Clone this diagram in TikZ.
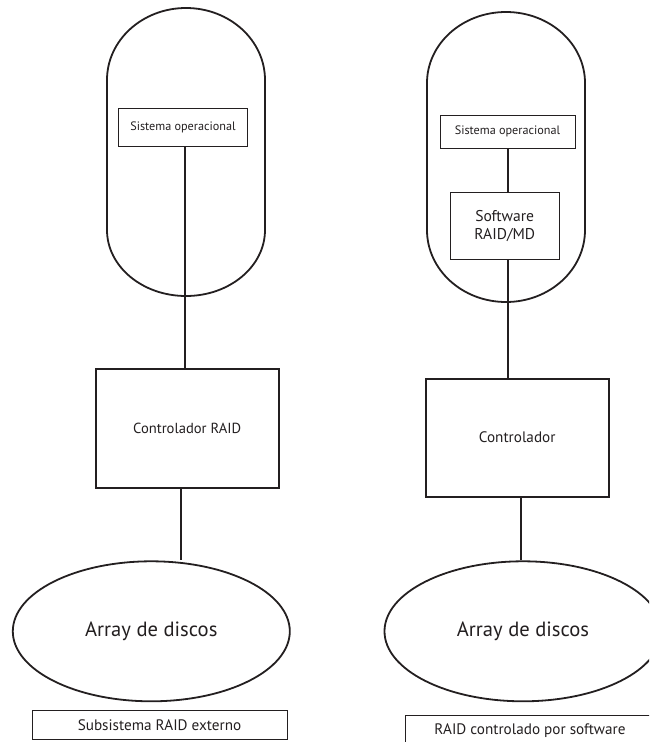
\documentclass[tikz,border=0pt]{standalone}
\usepackage{fontspec}
\setmainfont{PT Sans}
\usetikzlibrary{shapes.geometric}
\definecolor{ink}{HTML}{231F20}
\tikzset{
  thinbox/.style={draw=ink, line width=0.9pt, rectangle, inner sep=0pt, text=ink},
  thickbox/.style={draw=ink, line width=2pt, rectangle, inner sep=0pt, text=ink},
  disk/.style={draw=ink, line width=1.8pt, ellipse, inner sep=0pt, text=ink, minimum width=277pt, minimum height=140pt},
  capsule/.style={draw=ink, line width=1.8pt},
  wire/.style={draw=ink, line width=2pt},
  fsmall/.style={font=\fontsize{12.2}{14}\selectfont},
  fmid/.style={font=\fontsize{14.6}{18}\selectfont},
  flabel/.style={font=\fontsize{15.2}{18}\selectfont},
  fbig/.style={font=\fontsize{20.6}{24}\selectfont},
}
\begin{document}
\begin{tikzpicture}[x=1pt,y=-1pt]
\useasboundingbox (0,0) rectangle (649,742);
\clip (0,0) rectangle (649,742);
% left capsule
\draw[capsule] (107,80) arc[start angle=180,end angle=360,x radius=79,y radius=72]
  -- (265,230) arc[start angle=0,end angle=180,x radius=79,y radius=66] -- cycle;
% right capsule
\draw[capsule] (427,83) arc[start angle=180,end angle=360,x radius=79,y radius=71]
  -- (585,230) arc[start angle=0,end angle=180,x radius=79,y radius=72] -- cycle;

% left column
\node[thinbox, fsmall, minimum width=129pt, minimum height=38pt] (so1) at (183,127.5) {Sistema operacional};
\node[thickbox, fmid, minimum width=183pt, minimum height=119pt] (ctrl1) at (187.2,428.7) {Controlador RAID};
\node[disk, fbig] (disk1) at (151.3,631.3) {Array de discos};
\node[thinbox, flabel, minimum width=255pt, minimum height=28.5pt] (sub1) at (159.5,725) {Subsistema RAID externo};

\coordinate (a1) at (185,0);
\coordinate (b1) at (180.7,0);
\draw[wire] (a1 |- so1.south) -- (a1 |- ctrl1.north);
\draw[wire] (b1 |- ctrl1.south) -- (b1 |- disk1.north);

% right column
\node[thinbox, fsmall, minimum width=135pt, minimum height=33pt] (so2) at (507.5,131.7) {Sistema operacional};
\node[thinbox, font=\fontsize{15.6}{18}\selectfont, line width=1.2pt, minimum width=109pt, minimum height=67pt, align=center] (sw2) at (504.7,225.8) {Software\\RAID/MD};
\node[thickbox, flabel, minimum width=183pt, minimum height=118pt] (ctrl2) at (517.2,437.5) {Controlador};
\node[disk, fbig] (disk2) at (523,631.3) {Array de discos};
\node[thinbox, flabel, minimum width=250pt, minimum height=30pt] (sub2) at (530,730.5) {RAID controlado por software};

\coordinate (a2) at (508.4,0);
\coordinate (b2) at (520.7,0);
\draw[wire] (a2 |- so2.south) -- (a2 |- sw2.north);
\draw[wire] (a2 |- sw2.south) -- (a2 |- ctrl2.north);
\draw[wire] (b2 |- ctrl2.south) -- (b2 |- disk2.north);
\end{tikzpicture}
\end{document}
